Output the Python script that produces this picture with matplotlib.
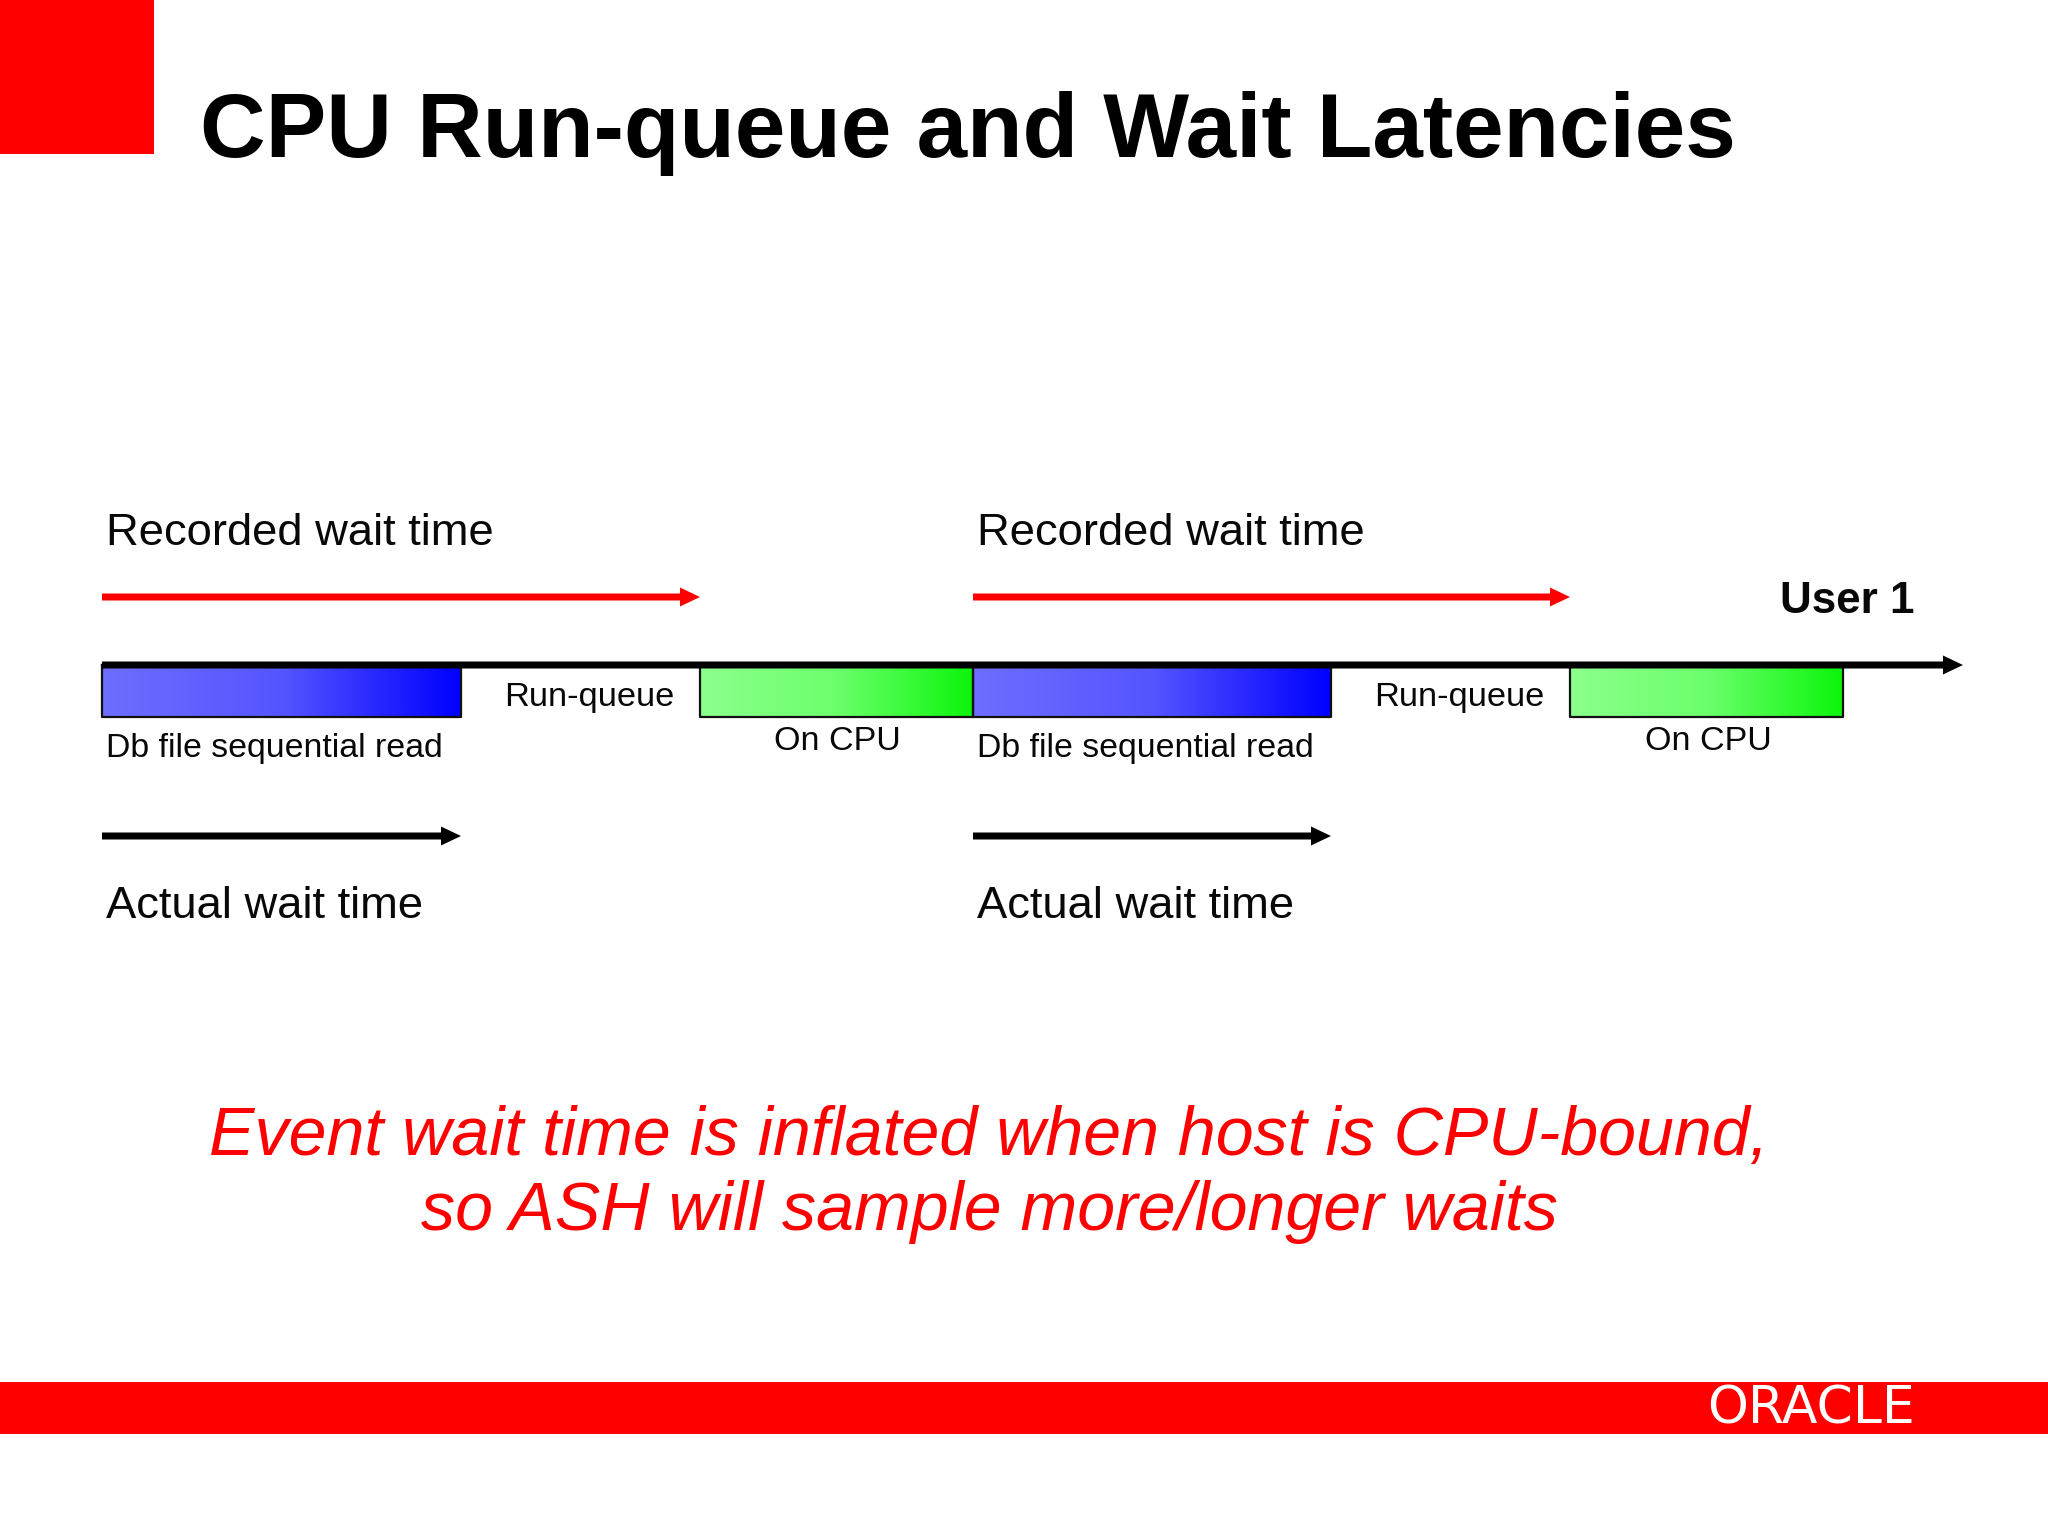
import numpy as np
import matplotlib
matplotlib.use("Agg")
import matplotlib.pyplot as plt
from matplotlib.colors import LinearSegmentedColormap

plt.rcParams['font.family'] = ['Liberation Sans', 'DejaVu Sans']

# everything below is measured in picture pixels (2048 x 1536)
title = "CPU Run-queue and Wait Latencies"
note_lines = ["Event wait time is inflated when host is CPU-bound,", "so ASH will sample more/longer waits"]

wait_start = [102, 973]
wait_end = [461, 1331]
cpu_start = [700, 1570]
cpu_end = [973, 1843]
recorded_end = [700, 1570]
timeline_end = 1963

run_queue_centers = [589, 1459]
cpu_centers = [837, 1708]
label_left = [106, 977]

RED = "#ff0000"
INK = "#080808"

fig = plt.figure(figsize=(20.48, 15.36), dpi=100)
ax = fig.add_axes([0, 0, 1, 1])
ax.set_xlim(0, 2048)
ax.set_ylim(1536, 0)
ax.axis("off")


def px(size):
    return size * 0.72


def gradient(x0, x1, colors):
    cmap = LinearSegmentedColormap.from_list("g", colors)
    ax.imshow(np.linspace(0, 1, 256).reshape(1, -1), extent=(x0, x1, 717, 665),
              cmap=cmap, aspect="auto", zorder=2)
    ax.plot([x0, x1, x1, x0, x0], [665, 665, 717, 717, 665], color="#101010", lw=1.6, zorder=3)


def arrow(x0, x1, y, color, zorder=4):
    ax.arrow(x0, y, x1 - x0, 0, width=7, head_width=19, head_length=20,
             length_includes_head=True, color=color, lw=0, zorder=zorder)


# header and footer blocks
ax.bar(77, 154, width=154, bottom=0, color=RED, lw=0)
ax.barh(1408, 2048, height=52, left=0, color=RED, lw=0)
ax.text(200, 157, title, fontsize=px(90.9), fontweight="bold", color="black", va="baseline")

arrow(102, timeline_end, 665, "black", zorder=5)

for i in range(2):
    gradient(wait_start[i], wait_end[i], ["#6e6eff", "#5555ff", "#0000ff"])
    gradient(cpu_start[i], cpu_end[i], ["#8cff8c", "#6cff6c", "#0cf50c"])
    arrow(wait_start[i], recorded_end[i], 597, RED)
    arrow(wait_start[i], wait_end[i], 836, "black")
    ax.text(label_left[i], 545, "Recorded wait time", fontsize=px(45.4), va="baseline", color=INK)
    ax.text(label_left[i], 918, "Actual wait time", fontsize=px(45.4), va="baseline", color=INK)
    ax.text(label_left[i], 757, "Db file sequential read", fontsize=px(33.9), va="baseline", color=INK)
    ax.text(run_queue_centers[i], 706, "Run-queue", fontsize=px(34.4), ha="center", va="baseline", color=INK)
    ax.text(cpu_centers[i], 750, "On CPU", fontsize=px(34), ha="center", va="baseline", color=INK)

ax.text(1780, 613, "User 1", fontsize=px(44), fontweight="bold", va="baseline", color=INK)

ax.text(989, 1155, note_lines[0], fontsize=px(68.2), style="italic", color=RED, ha="center", va="baseline")
ax.text(989, 1230, note_lines[1], fontsize=px(68.2), style="italic", color=RED, ha="center", va="baseline")

ax.text(1811, 1424, "ORACLE", fontsize=px(52), color="white", ha="center", va="baseline",
        family="DejaVu Sans")

ax.set_xlim(0, 2048)
ax.set_ylim(1536, 0)
fig.savefig("out.png", dpi=100)
